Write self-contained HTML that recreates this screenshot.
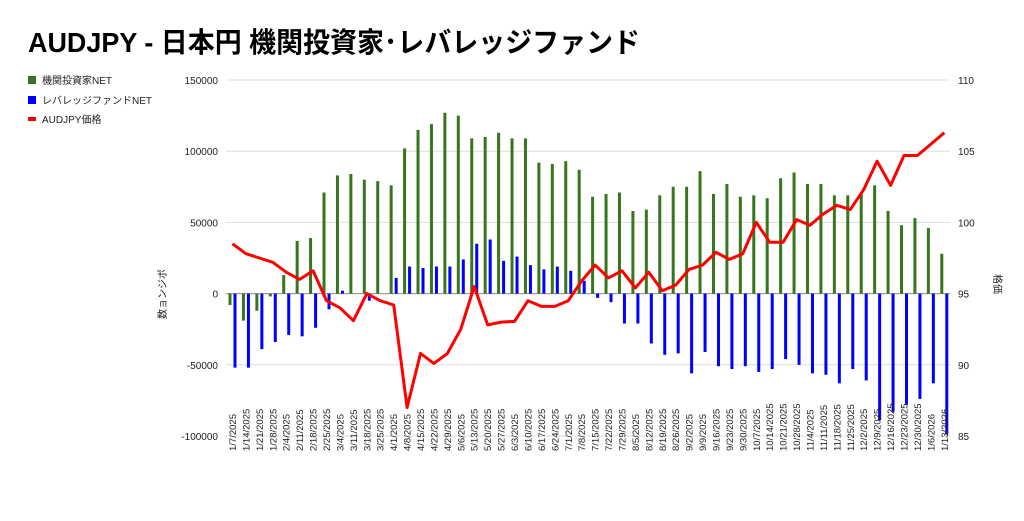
<!DOCTYPE html><html><head><meta charset="utf-8"><style>
body{margin:0;background:#fff;width:1024px;height:516px;overflow:hidden;font-family:"Liberation Sans","Noto Sans CJK JP",sans-serif}
</style></head><body>
<svg id="s" width="1024" height="516" xmlns="http://www.w3.org/2000/svg" font-family="Liberation Sans, Noto Sans CJK JP, sans-serif">
<text x="28" y="52" font-size="28" font-weight="bold" fill="#000" textLength="612" lengthAdjust="spacingAndGlyphs">AUDJPY - 日本円 機関投資家･レバレッジファンド</text>
<rect x="28" y="76" width="8" height="8" fill="#38761d"/><text x="42" y="84" font-size="10" fill="#222">機関投資家NET</text>
<rect x="28" y="96" width="8" height="8" fill="#0000ff"/><text x="42" y="104" font-size="10" fill="#222">レバレッジファンドNET</text>
<rect x="28" y="117" width="8" height="4" fill="#ff0000"/><text x="42" y="123" font-size="10" fill="#222">AUDJPY価格</text>
<text transform="translate(166,294) rotate(-90)" font-size="10" text-anchor="middle" fill="#222">数ョンジポ</text>
<text transform="translate(994,284) rotate(90)" font-size="10" text-anchor="middle" fill="#222">格価</text>
<g id="g"></g>
</svg>
<script>
const g=document.getElementById('g');let h='';
const yL=v=>293.6-v*71.2/50000, yR=v=>293.6-(v-95)*71.2/5;
[150000,100000,50000,0,-50000,-100000].forEach(v=>{const y=yL(v);
h+=`<line x1="226" x2="950" y1="${y}" y2="${y}" stroke="${v==0?'#888':'#ddd'}" stroke-width="1"/>`;
h+=`<text x="218" y="${y+4}" font-size="10" text-anchor="end" fill="#222">${v}</text>`;});
[110,105,100,95,90,85].forEach(v=>{h+=`<text x="958" y="${yR(v)+4}" font-size="10" fill="#222">${v}</text>`;});
const dates=[];let d=new Date(Date.UTC(2025,0,7));for(let i=0;i<54;i++){dates.push((d.getUTCMonth()+1)+'/'+d.getUTCDate()+'/'+d.getUTCFullYear());d=new Date(d.getTime()+7*864e5);}
const G=[-8,-19,-12,-2,13,37,39,71,83,84,80,79,76,102,115,119,127,125,109,110,113,109,109,92,91,93,87,68,70,71,58,59,69,75,75,86,70,77,68,69,67,81,85,77,77,69,69,70,76,58,48,53,46,28];
const B=[-52,-52,-39,-34,-29,-30,-24,-11,2,0,-5,0,11,19,18,19,19,24,35,38,23,26,20,17,19,16,9,-3,-6,-21,-21,-35,-43,-42,-56,-41,-51,-53,-51,-55,-53,-46,-50,-56,-57,-63,-53,-61,-89,-83,-78,-74,-63,-99];
const P=[98.5,97.8,97.5,97.2,96.5,96.0,96.6,94.5,94.0,93.1,95.0,94.5,94.2,87.0,90.8,90.1,90.8,92.5,95.5,92.8,93.0,93.05,94.5,94.1,94.1,94.5,95.9,97.0,96.1,96.6,95.4,96.5,95.2,95.6,96.7,97.0,97.9,97.4,97.8,100.0,98.6,98.6,100.2,99.8,100.6,101.2,100.9,102.3,104.3,102.6,104.7,104.7,105.5,106.3];
const X=i=>232.5+i*13.43;let pts=[];
for(let i=0;i<54;i++){const x=X(i);
[[G[i],'#38761d',x-4],[B[i],'#0000ff',x+1]].forEach(([v,c,bx])=>{const y=yL(v*1000);h+=`<rect x="${bx}" y="${Math.min(y,293.6)}" width="3" height="${Math.abs(y-293.6)}" fill="${c}"/>`;});
pts.push(x.toFixed(1)+','+yR(P[i]).toFixed(1));
h+=`<text transform="translate(${x+3.5},451) rotate(-90)" font-size="9.5" fill="#222">${dates[i]}</text>`;}
h+=`<polyline points="${pts.join(' ')}" fill="none" stroke="#ff0000" stroke-width="3" stroke-linejoin="round"/>`;
g.innerHTML=h;
</script>
</body></html>
